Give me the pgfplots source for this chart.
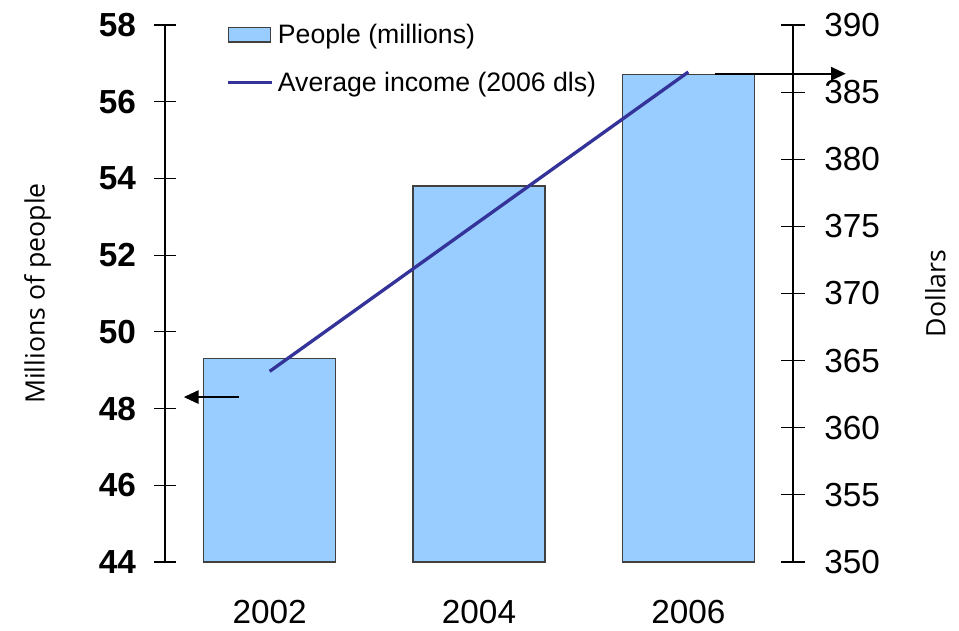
\documentclass[border=0pt]{standalone}
\usepackage{fontspec}
\setmainfont{Liberation Sans}
\newfontfamily\labelfont{Open Sans}
\usepackage{pgfplots}
\pgfplotsset{compat=1.18}
\usetikzlibrary{arrows.meta}
\definecolor{barfill}{HTML}{99CCFF}
\definecolor{bardraw}{HTML}{404040}
\definecolor{lineblue}{HTML}{333399}
\begin{document}
\begin{tikzpicture}
\useasboundingbox (-123.75pt,-51.75pt) rectangle (595.5pt,421.5pt);
\begin{axis}[
  scale only axis, width=471pt, height=402.75pt,
  at={(0pt,0pt)}, anchor=south west,
  xmin=-0.5, xmax=2.5, ymin=44, ymax=58,
  enlargelimits=false, clip=false,
  axis x line*=bottom, axis y line*=left,
  x axis line style={draw=none},
  xtick={0,1,2}, xticklabels={2002,2004,2006},
  major x tick style={draw=none},
  ytick={44,46,...,58},
  tick align=center, major tick length=16.5pt,
  /pgf/number format/assume math mode=true,
  yticklabel style={font=\bfseries\fontsize{25}{25}\selectfont, xshift=-10pt},
  xticklabel style={font=\fontsize{25}{25}\selectfont, inner sep=0pt, text depth=0pt, yshift=-20pt},
  ylabel={\labelfont Millions of people},
  ylabel style={font=\fontsize{20}{20}\selectfont},
  ylabel shift=29pt,
  tick style={black, line width=0.8pt},
  axis line style={line width=0.8pt},
]
\addplot[ybar, bar width=99pt, fill=barfill, draw=bardraw, line width=0.9pt]
  coordinates {(0,49.3) (1,53.8) (2,56.7)};
\draw[line width=1.2pt, -{Triangle[length=11pt,width=10pt]}] (axis cs:-0.148,48.3) -- (axis cs:-0.41,48.3);
\draw[line width=1.2pt, -{Triangle[length=11pt,width=10pt]}] (axis cs:2.126,56.73) -- (axis cs:2.752,56.73);
\end{axis}
\begin{axis}[
  scale only axis, width=471pt, height=402.75pt,
  at={(0pt,0pt)}, anchor=south west,
  xmin=-0.5, xmax=2.5, ymin=350, ymax=390,
  enlargelimits=false, clip=false,
  axis x line=none, axis y line*=right,
  ytick={350,355,...,390},
  tick align=center, major tick length=18pt,
  /pgf/number format/assume math mode=true,
  yticklabel style={font=\fontsize{25}{25}\selectfont, xshift=11pt},
  ylabel={\labelfont Dollars},
  ylabel style={font=\fontsize{20}{20}\selectfont},
  ylabel shift=27pt,
  tick style={black, line width=0.8pt},
  axis line style={line width=0.8pt},
  legend style={draw=none, fill=none, at={(rel axis cs:0,1)}, anchor=north west,
    xshift=43pt, yshift=5pt, font=\fontsize{20}{20}\selectfont, row sep=16pt},
  legend cell align=left,
]
\addlegendimage{legend image code/.code={\draw[fill=barfill, draw=bardraw, line width=0.9pt] (0pt,-5.6pt) rectangle (31.5pt,5.6pt); \path (34pt,0pt);}}
\addlegendentry{People (millions)}
\addplot[color=lineblue, line width=2.5pt, legend image code/.code={\draw[lineblue, line width=2.5pt] (0pt,0pt) -- (33pt,0pt); \path (34pt,0pt);}]
  coordinates {(0,364.2) (2,386.5)};
\addlegendentry{Average income (2006 dls)}
\end{axis}
\end{tikzpicture}
\end{document}
